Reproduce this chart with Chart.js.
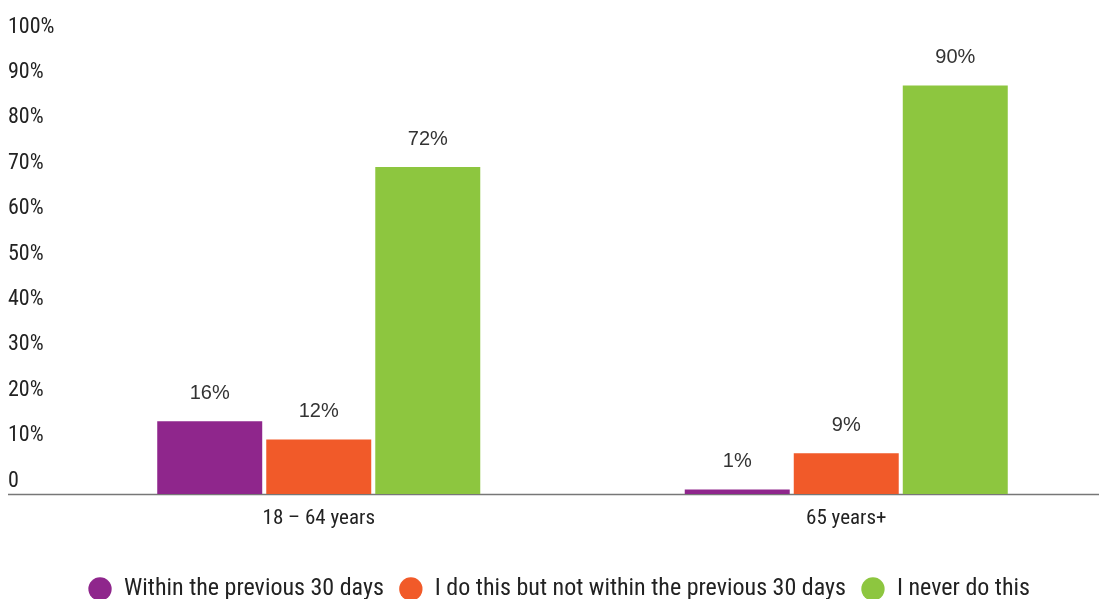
<!DOCTYPE html>
<html lang="en">

<head>
  <meta charset="UTF-8">
  <script src="https://cdn.jsdelivr.net/npm/chart.js@4/dist/chart.umd.min.js"></script>
  <title>Age groups</title>
  <style>
    body { margin: 0; overflow: hidden; background: #fff; }
    .wrap { width: 1099px; height: 599px; overflow: hidden; }
  </style>
</head>

<body>
  <div class="wrap">
    <canvas id="myChart" width="1110" height="611"></canvas>
  </div>

  <script>
    const ageGroups = ['18 \u2013 64 years', '65 years+']
    const seriesNames = ['Within the previous 30 days', 'I do this but not within the previous 30 days', 'I never do this']
    const within30 = [16, 1]
    const notWithin30 = [12, 9]
    const never = [72, 90]
    const yTicks = [0, 10, 20, 30, 40, 50, 60, 70, 80, 90, 100]

    const narrow = "'Roboto Condensed', 'Liberation Sans Narrow', 'DejaVu Sans Condensed', Roboto, sans-serif"

    // zero line runs out under the tick labels too
    const baseLine = {
      id: 'baseLine',
      beforeDatasetsDraw(chart) {
        const y = chart.scales.y
        const py = Math.round(y.getPixelForValue(0)) + 0.5
        const c = chart.ctx
        c.save()
        c.strokeStyle = '#777'
        c.lineWidth = 1.5
        c.beginPath()
        c.moveTo(y.left, py)
        c.lineTo(chart.chartArea.right, py)
        c.stroke()
        c.restore()
      }
    }

    // value text above each bar
    const barValues = {
      id: 'barValues',
      afterDatasetsDraw(chart) {
        const ctx = chart.ctx
        ctx.save()
        ctx.font = "20px 'Liberation Sans', Arial, sans-serif"
        ctx.fillStyle = '#333'
        ctx.textAlign = 'center'
        ctx.textBaseline = 'middle'
        chart.data.datasets.forEach((ds, i) => {
          chart.getDatasetMeta(i).data.forEach((bar, j) => {
            ctx.fillText(ds.data[j] + '%', bar.x, bar.y - 28)
          })
        })
        ctx.restore()
      }
    }

    const ctx = document.getElementById('myChart')
    const myChart = new Chart(ctx, {
      type: 'bar',
      data: {
        labels: ageGroups,
        datasets: [
          { label: seriesNames[0], data: within30, backgroundColor: '#8f268c' },
          { label: seriesNames[1], data: notWithin30, backgroundColor: '#f15a29' },
          { label: seriesNames[2], data: never, backgroundColor: '#8dc63f' }
        ]
      },
      options: {
        responsive: false,
        animation: false,
        layout: { padding: { top: 40, left: 8, right: 0, bottom: 0 } },
        datasets: {
          bar: { categoryPercentage: 0.62, barPercentage: 0.963 }
        },
        plugins: {
          tooltip: { enabled: false },
          legend: {
            position: 'bottom',
            labels: {
              usePointStyle: true,
              pointStyle: 'circle',
              boxWidth: 24,
              boxHeight: 16.5,
              padding: 15,
              color: '#222',
              font: { family: narrow, size: 24 }
            }
          }
        },
        scales: {
          x: {
            grid: { display: false, drawTicks: false },
            border: { display: false },
            ticks: { color: '#222', padding: 12, font: { family: narrow, size: 21 } },
            afterFit: s => { s.height = 68 }
          },
          y: {
            min: 0,
            max: 100,
            afterBuildTicks: s => { s.ticks = yTicks.map(v => ({ value: v })) },
            afterFit: s => { s.width = 47 },
            border: { display: false },
            grid: { display: false, drawTicks: false },
            ticks: {
              crossAlign: 'far',
              labelOffset: -13,
              color: '#222',
              font: { family: narrow, size: 22 },
              callback: v => v === 0 ? '0' : v + '%'
            }
          }
        }
      },
      plugins: [baseLine, barValues]
    })
  </script>
</body>

</html>
